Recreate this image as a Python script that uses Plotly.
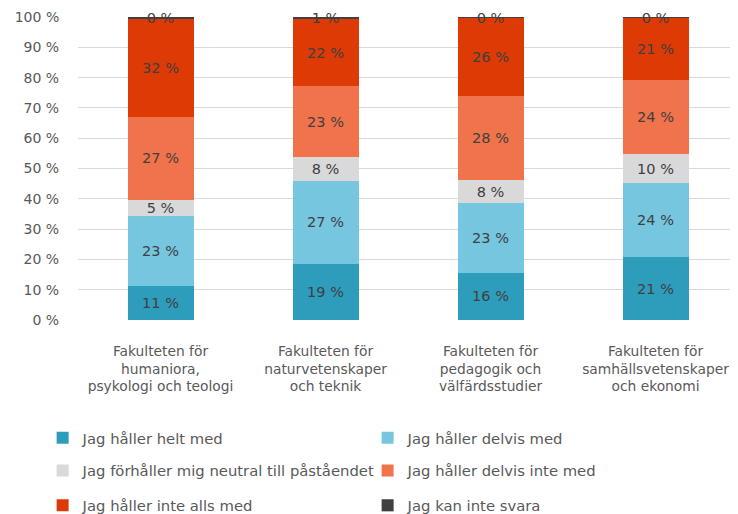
import plotly.graph_objects as go

categories = [
    "Fakulteten för<br>humaniora,<br>psykologi och teologi",
    "Fakulteten för<br>naturvetenskaper<br>och teknik",
    "Fakulteten för<br>pedagogik och<br>välfärdsstudier",
    "Fakulteten för<br>samhällsvetenskaper<br>och ekonomi",
]

series_names = [
    "Jag håller helt med",
    "Jag håller delvis med",
    "Jag förhåller mig neutral till påståendet",
    "Jag håller delvis inte med",
    "Jag håller inte alls med",
    "Jag kan inte svara",
]

helt_med = [11.3, 18.6, 15.6, 20.7]
delvis_med = [23.0, 27.2, 22.9, 24.4]
neutral = [5.4, 8.1, 7.8, 9.8]
delvis_inte = [27.3, 23.2, 27.6, 24.4]
inte_alls = [32.4, 22.3, 25.8, 20.6]
kan_inte = [0.4, 0.6, 0.3, 0.1]

values = [helt_med, delvis_med, neutral, delvis_inte, inte_alls, kan_inte]
colors = ["#2E9DBC", "#76C6E0", "#D9D9D9", "#F0734C", "#DD3A05", "#404040"]
legend_ids = ["legend", "legend", "legend2", "legend2", "legend3", "legend3"]

FONT = "DejaVu Sans"
fig = go.Figure()
for name, vals, col, lg in zip(series_names, values, colors, legend_ids):
    fig.add_trace(go.Bar(
        x=categories, y=vals, name=name,
        marker=dict(color=col, line=dict(width=0)),
        text=[f"{round(v)} %" for v in vals],
        textposition="inside", insidetextanchor="middle", textangle=0,
        textfont=dict(color="#404040", size=14.5, family=FONT),
        constraintext="none", cliponaxis=False,
        legend=lg,
    ))

legend_common = dict(orientation="h", xanchor="left", yanchor="middle",
                     x=-0.0536, entrywidth=280, entrywidthmode="pixels",
                     traceorder="normal",
                     font=dict(size=14.8, color="#595959", family=FONT),
                     bgcolor="rgba(0,0,0,0)", itemwidth=30)

# the page body has an 8px margin, so the figure is sized to fit the window
fig.update_layout(
    width=730, height=506,
    barmode="stack", bargap=0.6,
    margin=dict(l=70, r=0, t=9, b=194, autoexpand=False),
    plot_bgcolor="white", paper_bgcolor="white",
    font=dict(family=FONT, size=14, color="#595959"),
    uniformtext=dict(minsize=14.5, mode="show"),
    legend=dict(**legend_common, y=-0.39),
    legend2=dict(**legend_common, y=-0.498),
    legend3=dict(**legend_common, y=-0.613),
    xaxis=dict(showgrid=False, showline=False, automargin=False,
               tickfont=dict(size=13.8, color="#595959"),
               ticks="outside", ticklen=18, tickcolor="rgba(0,0,0,0)"),
    yaxis=dict(range=[0, 100], tickvals=list(range(0, 101, 10)),
               ticktext=[f"{v} %" for v in range(0, 101, 10)],
               showgrid=True, gridcolor="#D9D9D9", gridwidth=1, zeroline=False,
               automargin=False,
               tickfont=dict(size=14, color="#595959"),
               ticks="outside", ticklen=15, tickcolor="rgba(0,0,0,0)"),
)

fig.write_html("out.html")
